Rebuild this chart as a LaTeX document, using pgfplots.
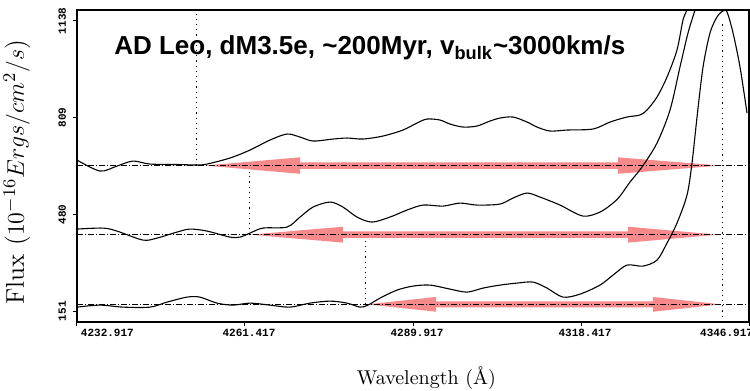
\documentclass[border=0pt]{standalone}
\usepackage{fontspec}
\usepackage{pgfplots}
\pgfplotsset{compat=1.18}
\newfontfamily\titlefont{Liberation Sans}
\newfontfamily\tickfont{Liberation Mono}
\definecolor{arrowred}{RGB}{240,60,60}
\begin{document}
\begin{tikzpicture}
\begin{axis}[
  at={(0,0)}, anchor=south west,
  scale only axis, width=336pt, height=156pt,
  xmin=4232.917, xmax=4346.917, ymin=114, ymax=1175,
  axis line style={line width=0.6pt},
  xtick={4232.917,4261.417,4289.917,4318.417,4346.917},
  xticklabels={\makebox[0pt][l]{4232.917},4261.417,4289.917,4318.417,\makebox[0pt][r]{4346.917}},
  ytick={151,480,809,1138},
  yticklabels={151,480,809,1138},
  xtick pos=left, ytick pos=left,
  tick align=outside, major tick length=2pt,
  tick style={black, line width=0.5pt},
  ticklabel style={font=\tickfont\bfseries\fontsize{5.5}{6}\selectfont},
  xticklabel style={xshift=2pt, yshift=2pt},
  yticklabel style={rotate=90, anchor=south},
  xlabel={Wavelength (Å)},
  xlabel style={font=\fontsize{10}{12}\selectfont, at={(axis description cs:0.52,0)}, anchor=base, yshift=-31pt},
  ylabel={Flux ($10^{-16} Ergs/cm^2/s$)},
  ylabel style={font=\fontsize{12.8}{14}\selectfont, at={(axis description cs:-0.0893,0.48)}, anchor=center},
]
% red arrows
\addplot[draw=none, fill=arrowred, fill opacity=0.6] coordinates {
(4254.63,646) (4270.75,674) (4270.75,657) (4324.69,657) (4324.69,674) (4342.00,646)
(4324.69,618) (4324.69,635) (4270.75,635) (4270.75,618) (4254.63,646)};
\addplot[draw=none, fill=arrowred, fill opacity=0.6] coordinates {
(4262.27,411) (4278.04,438) (4278.04,422) (4326.39,422) (4326.39,438) (4341.66,411)
(4326.39,384) (4326.39,400) (4278.04,400) (4278.04,384) (4262.27,411)};
\addplot[draw=none, fill=arrowred, fill opacity=0.6] coordinates {
(4282.11,174) (4293.82,199) (4293.82,184) (4330.63,184) (4330.63,199) (4342.17,174)
(4330.63,149) (4330.63,164) (4293.82,164) (4293.82,149) (4282.11,174)};
% continuum lines
\addplot[black, line width=0.45pt, dash pattern=on 3pt off 1pt on 0.5pt off 1pt] coordinates {(4232.917,646) (4346.917,646)};
\addplot[black, line width=0.45pt, dash pattern=on 3pt off 1pt on 0.5pt off 1pt] coordinates {(4232.917,411) (4346.917,411)};
\addplot[black, line width=0.45pt, dash pattern=on 3pt off 1pt on 0.5pt off 1pt] coordinates {(4232.917,174) (4346.917,174)};
% dotted vertical lines
\addplot[black, line width=0.5pt, dash pattern=on 0.6pt off 2pt] coordinates {(4253.23,646) (4253.23,1175)};
\addplot[black, line width=0.5pt, dash pattern=on 0.6pt off 2pt] coordinates {(4262.10,411) (4262.10,625)};
\addplot[black, line width=0.5pt, dash pattern=on 0.6pt off 2pt] coordinates {(4281.94,174) (4281.94,392)};
\addplot[black, line width=0.5pt, dash pattern=on 0.6pt off 2pt] coordinates {(4342.46,114) (4342.46,1130)};
% top spectrum
\addplot[black, line width=0.55pt, smooth, tension=0.5] coordinates {
(4232.92,664.7) (4236.82,627.3) (4239.70,644.3) (4242.42,661.3) (4245.30,651.1)
(4250.39,649.4) (4253.27,647.7) (4254.97,651.1) (4258.87,671.6) (4262.27,698.8)
(4265.66,732.8) (4268.54,753.2) (4270.75,743.0) (4272.95,729.4) (4276.35,736.2)
(4278.72,739.6) (4281.43,736.2) (4284.83,746.4) (4288.22,766.8) (4290.59,790.6)
(4292.29,804.2) (4294.50,800.8) (4296.19,787.2) (4298.40,777.0) (4300.77,780.4)
(4302.98,797.4) (4304.67,807.6) (4306.88,811.0) (4309.26,794.0) (4310.95,777.0)
(4313.16,763.4) (4316.04,766.8) (4320.45,770.2) (4323.34,794.0) (4326.22,811.0)
(4328.42,817.9) (4329.61,834.9) (4331.31,879.1) (4333.01,947.1) (4334.70,1039.0)
(4335.72,1141.1) (4336.40,1175.1) (4336.74,1209)};
% middle spectrum
\addplot[black, line width=0.55pt, smooth, tension=0.5] coordinates {
(4232.92,430.0) (4237.33,433.4) (4239.70,423.2) (4244.11,392.6) (4246.49,399.4)
(4249.88,419.8) (4252.09,430.0) (4254.97,423.2) (4258.87,402.8) (4260.57,402.8)
(4262.27,416.4) (4264.47,433.4) (4268.54,436.8) (4270.75,470.8) (4272.95,504.8)
(4275.84,521.9) (4278.04,504.8) (4280.42,470.8) (4282.96,453.8) (4286.01,470.8)
(4288.90,494.6) (4291.61,511.6) (4295.01,508.2) (4297.89,518.4) (4300.77,511.6)
(4304.67,515.0) (4306.88,535.5) (4309.26,552.5) (4311.46,538.9) (4314.85,511.6)
(4318.75,474.2) (4321.64,487.8) (4323.85,518.4) (4325.04,542.3) (4326.73,589.9)
(4328.76,640.9) (4331.31,722.6) (4333.52,834.9) (4335.21,981.2) (4336.57,1096.8)
(4337.76,1175.1) (4338.27,1209)};
% bottom spectrum
\addplot[black, line width=0.55pt, smooth, tension=0.5] coordinates {
(4232.92,164.6) (4236.82,171.4) (4240.72,164.6) (4245.30,164.6) (4248.18,181.6)
(4251.58,198.6) (4253.78,198.6) (4256.67,178.2) (4259.38,171.4) (4262.27,178.2)
(4265.66,171.4) (4269.05,164.6) (4272.44,178.2) (4275.84,185.0) (4278.72,178.2)
(4280.93,164.6) (4282.28,171.4) (4284.32,195.2) (4287.20,222.4) (4289.92,236.1)
(4292.80,239.5) (4296.19,225.9) (4299.08,215.6) (4301.79,229.3) (4304.67,239.5)
(4307.56,246.3) (4310.27,249.7) (4312.65,229.3) (4315.36,198.6) (4318.25,208.8)
(4321.64,239.5) (4323.85,273.5) (4326.22,307.5) (4328.93,304.1) (4331.31,324.5)
(4333.01,382.4) (4334.70,450.4) (4336.40,545.7) (4337.25,654.5) (4338.10,811.0)
(4339.12,981.2) (4340.30,1096.8) (4341.49,1151.3) (4342.51,1171.7) (4343.19,1168.3)
(4344.21,1096.8) (4345.39,981.2) (4346.58,824.7)};
% title
\node[anchor=base west, font=\titlefont\bfseries\fontsize{13}{15}\selectfont]
  at (rel axis cs:0.045,0.856) {AD Leo, dM3.5e, \textasciitilde200Myr, v\textsubscript{bulk}\textasciitilde3000km/s};
\end{axis}
\pgfresetboundingbox
\path (-38.5pt,-34.5pt) rectangle (336.5pt,161pt);
\end{tikzpicture}
\end{document}
